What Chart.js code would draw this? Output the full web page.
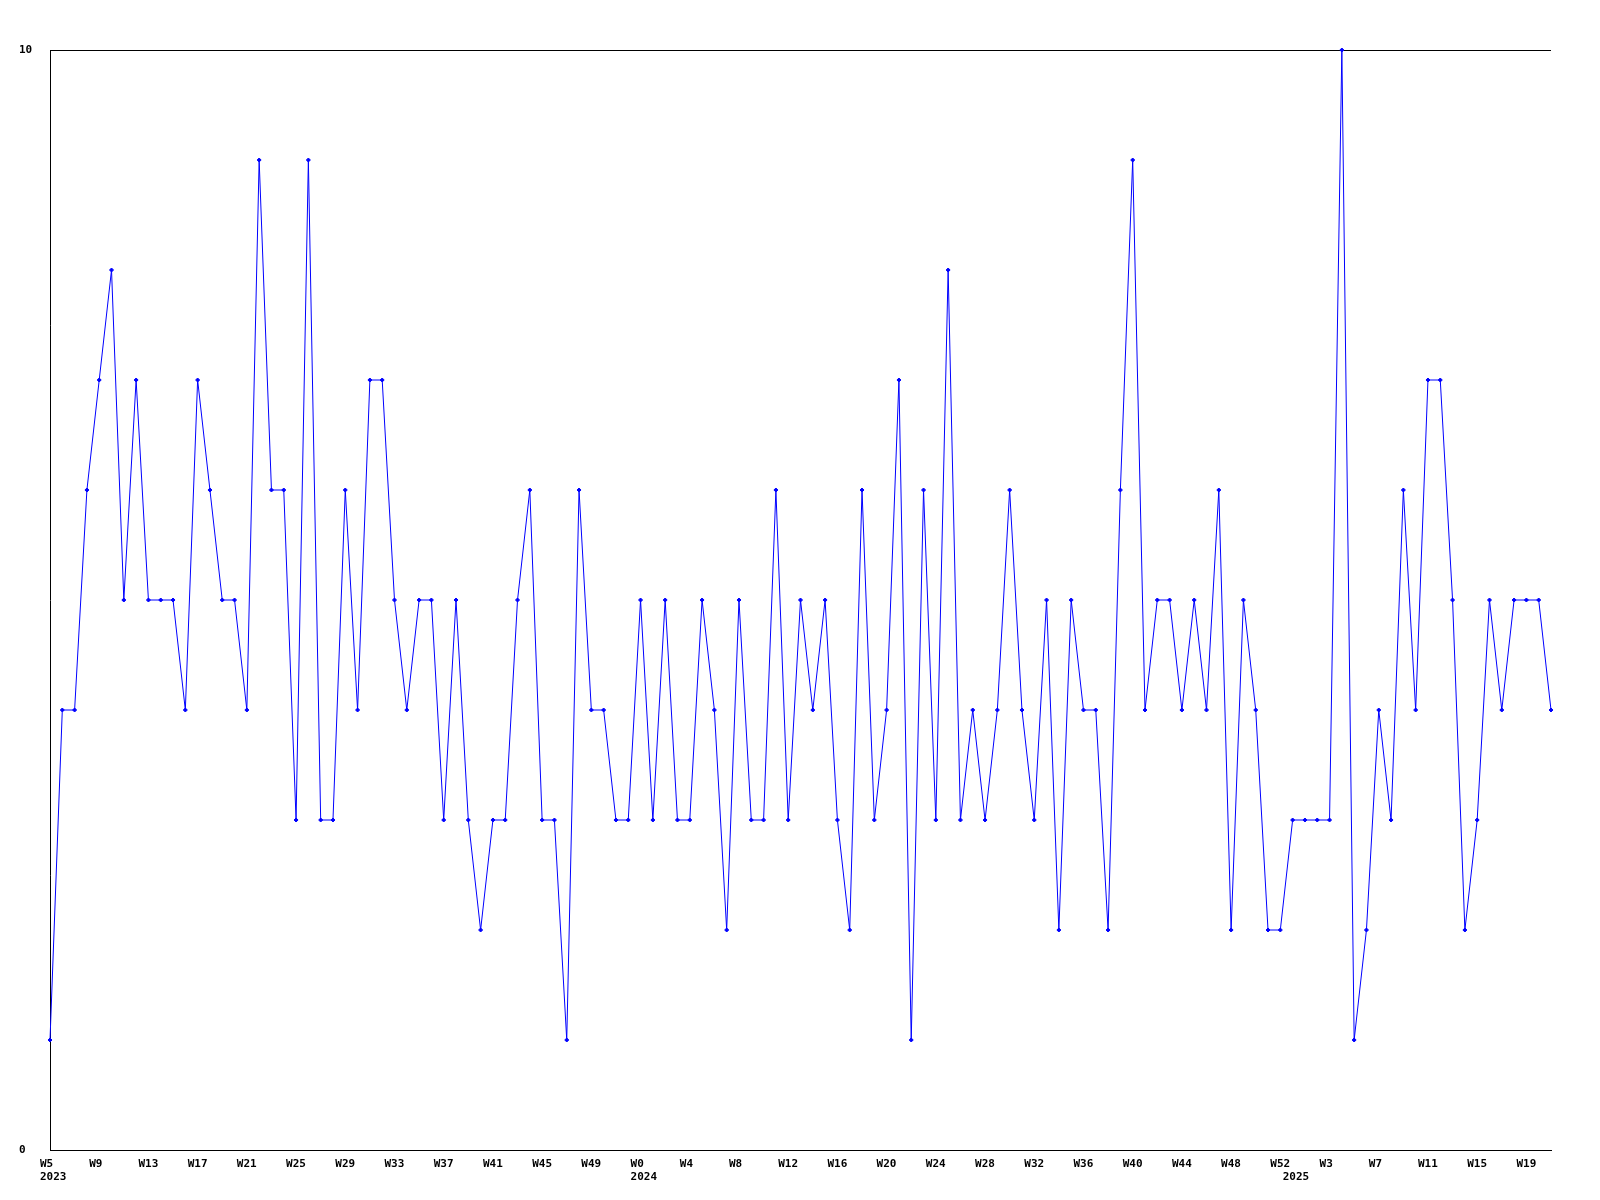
<!DOCTYPE html>
<html>
<head>
<meta charset="utf-8">
<title>Weekly count</title>
<script src="https://cdn.jsdelivr.net/npm/chart.js@4.4.1/dist/chart.umd.min.js"></script>
<style>
  html, body { margin: 0; padding: 0; background: #fff; }
  #wrap { width: 1600px; height: 1200px; }
</style>
</head>
<body>
<div id="wrap"><canvas id="weekChart" width="1600" height="1200"></canvas></div>
<script>
// weekly values, 2023 W5 .. 2025 W21
const values = [
  1, 4, 4, 6, 7, 8, 5, 7, 5, 5, 5, 4, 7, 6, 5, 5, 4, 9, 6, 6,
  3, 9, 3, 3, 6, 4, 7, 7, 5, 4, 5, 5, 3, 5, 3, 2, 3, 3, 5, 6,
  3, 3, 1, 6, 4, 4, 3, 3, 5, 3, 5, 3, 3, 5, 4, 2, 5, 3, 3, 6,
  3, 5, 4, 5, 3, 2, 6, 3, 4, 7, 1, 6, 3, 8, 3, 4, 3, 4, 6, 4,
  3, 5, 2, 5, 4, 4, 2, 6, 9, 4, 5, 5, 4, 5, 4, 6, 2, 5, 4, 2,
  2, 3, 3, 3, 3, 10, 1, 2, 4, 3, 6, 4, 7, 7, 5, 2, 3, 5, 4, 5,
  5, 5, 4
];

// week ranges covered per year
const yearNames = ["2023", "2024", "2025"];
const yearFirstWeek = [5, 0, 0];
const yearLastWeek = [52, 52, 21];

const TICK_EVERY = 4;

const weekLabels = [];
const yearStartAt = {};
yearNames.forEach((y, k) => {
  yearStartAt[weekLabels.length] = y;
  for (let w = yearFirstWeek[k]; w <= yearLastWeek[k]; w++) weekLabels.push("W" + w);
});

const tickFont = { family: "'DejaVu Sans Mono', monospace", size: 11, weight: "bold", lineHeight: 1.21 };

new Chart(document.getElementById("weekChart"), {
  type: "line",
  data: {
    labels: weekLabels,
    datasets: [{
      data: values,
      borderColor: "#0000ff",
      backgroundColor: "#0000ff",
      borderWidth: 1,
      tension: 0,
      pointStyle: "rectRot",
      pointRadius: 2,
      pointBorderWidth: 1,
      clip: false,
    }],
  },
  options: {
    responsive: false,
    devicePixelRatio: 1,
    animation: false,
    layout: { padding: { left: 19, top: 50, right: 49, bottom: 0 } },
    plugins: { legend: { display: false }, tooltip: { enabled: false } },
    scales: {
      x: {
        type: "category",
        grid: { display: false, drawTicks: false },
        border: { display: true, color: "#000", width: 1 },
        ticks: {
          autoSkip: false,
          maxRotation: 0,
          minRotation: 0,
          align: "start",
          labelOffset: -10,
          padding: 7,
          color: "#000",
          font: tickFont,
          callback: (v, i) => {
            const wk = i % TICK_EVERY === 0 ? weekLabels[i] : "";
            if (yearStartAt[i]) return [wk, yearStartAt[i]];
            return wk;
          },
        },
        afterFit: (s) => { s.height = 50; },
      },
      y: {
        min: 0,
        max: 10,
        grid: { color: "#000", lineWidth: 1, drawTicks: false },
        border: { display: true, color: "#000", width: 1 },
        ticks: {
          stepSize: 10,
          crossAlign: "far",
          padding: 0,
          color: "#000",
          font: tickFont,
        },
        afterFit: (s) => { s.width = 31; },
      },
    },
  },
});
</script>
</body>
</html>
